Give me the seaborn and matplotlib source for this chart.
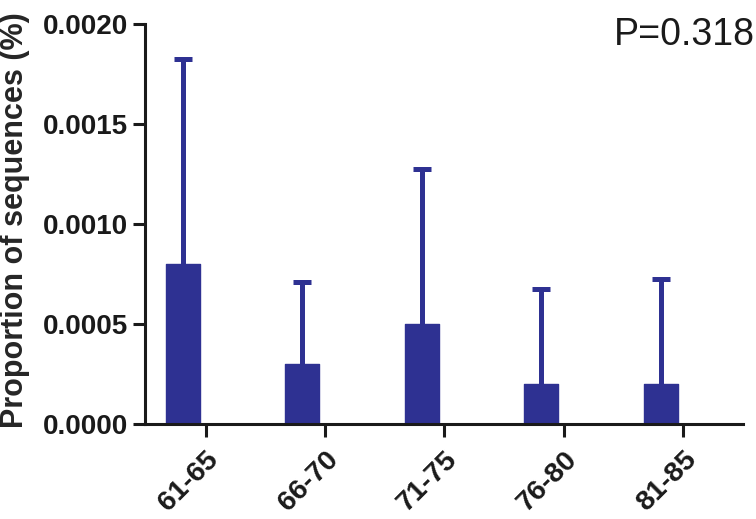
import matplotlib
matplotlib.use('Agg')
import matplotlib.pyplot as plt
import matplotlib.transforms as mtransforms
import seaborn as sns
import pandas as pd
import numpy as np

# data
age_groups = ['61-65', '66-70', '71-75', '76-80', '81-85']
proportion = [0.0008, 0.0003, 0.0005, 0.0002, 0.0002]
upper_err = [0.001024, 0.000412, 0.000773, 0.000473, 0.000523]
p_text = 'P=0.318'

bar_color = '#2E3192'
ink = '#1a1a1a'

sns.set_style('ticks')
plt.rcParams['font.family'] = ['Liberation Sans', 'DejaVu Sans']

df = pd.DataFrame({'age': age_groups, 'prop': proportion})

fig = plt.figure(figsize=(7.56, 5.19), dpi=100)
ax = fig.add_axes([145 / 756, 95 / 519, 598 / 756, 400 / 519])

sns.barplot(data=df, x='age', y='prop', color=bar_color, saturation=1,
            width=0.285, errorbar=None, ax=ax, edgecolor=bar_color,
            linewidth=1, zorder=2)
for p in ax.patches:
    p.set_joinstyle('round')

# upper error bars only (SD shown one way)
pos = np.arange(len(age_groups))
_, caps, bars = ax.errorbar(pos, proportion,
                            yerr=[np.zeros(len(pos)), upper_err], fmt='none',
                            ecolor=bar_color, elinewidth=3.6, capsize=6.8,
                            capthick=3.6, zorder=1)
caps[0].set_visible(False)
caps[1].set_solid_capstyle('round')
for coll in bars:
    coll.set_capstyle('round')

ax.set_xlim(-0.318, 4.69)
ax.set_ylim(0, 0.002)
ax.set_yticks([0, 0.0005, 0.0010, 0.0015, 0.0020])
ax.set_yticklabels(['0.0000', '0.0005', '0.0010', '0.0015', '0.0020'],
                   fontsize=20, fontweight='bold')

# ticks sit a little to the right of the bars, as in the reference
ax.set_xticks(pos + 0.19)
ax.set_xticklabels(age_groups, fontsize=20.5, fontweight='bold', rotation=45,
                   ha='right', va='top', rotation_mode='anchor')
shift = mtransforms.ScaledTranslation(5 / 72, 0, fig.dpi_scale_trans)
for lab in ax.get_xticklabels():
    lab.set_transform(lab.get_transform() + shift)
ax.set_xlabel('')

ax.set_ylabel('Proportion of sequences (%)', fontsize=22, fontweight='bold')
ax.yaxis.set_label_coords(-0.192, 0.51)

for side in ['right', 'top']:
    ax.spines[side].set_visible(False)
for side in ['left', 'bottom']:
    ax.spines[side].set_linewidth(2.2)
    ax.spines[side].set_color(ink)
ax.tick_params(axis='both', width=2.2, length=9, color=ink, labelcolor=ink)
ax.tick_params(axis='y', pad=3)
ax.tick_params(axis='x', pad=7)

fig.text(0.999, (519 - 45) / 519, p_text, fontsize=27, ha='right',
         va='baseline', color=ink)

fig.savefig('out.png', dpi=100)
